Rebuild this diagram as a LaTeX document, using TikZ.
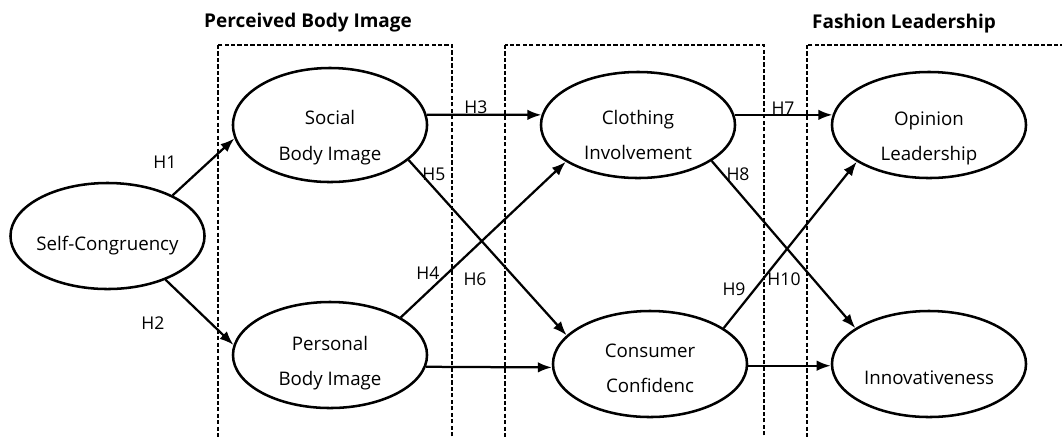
\documentclass[tikz,border=0pt]{standalone}
\usepackage{fontspec}
\setmainfont{Open Sans}
\usetikzlibrary{shapes.geometric,arrows.meta}

\tikzset{
    oval/.style={ellipse, draw, line width=1.8pt, inner sep=0pt,
        minimum width=4.85cm, minimum height=2.65cm},
    txt/.style={align=center, font=\fontsize{13.3}{25}\selectfont, yshift=-6pt},
    hyp/.style={font=\fontsize{12.5}{15}\selectfont},
    arr/.style={-{Latex[length=10pt,width=7.5pt]}, line width=1.6pt},
    group/.style={line width=1.1pt, dash pattern=on 3pt off 1.6pt},
    title/.style={font=\bfseries\fontsize{13.5}{16}\selectfont, anchor=base},
}

\begin{document}
\begin{tikzpicture}[x=0.025cm, y=-0.025cm]
        \useasboundingbox (0,0) rectangle (1062,437);
        \clip (0,0) rectangle (1062,437);
        \draw[group] (218,45) rectangle (452,460);
        \draw[group] (505,45) rectangle (764,460);
        \draw[group] (807,45) rectangle (1090,460);
        \node[title] (tbody) at (308,27) {Perceived Body Image};
        \node[title] (tlead) at (904,28) {Fashion Leadership};

        \node[oval, label={[txt, yshift=-1pt]center:Self-Congruency}] (sc)  at (107.5,236) {};
        \node[oval, minimum height=2.85cm,
              label={[txt, yshift=-3pt]center:Social\\Body Image}]    (sbi) at (330,125) {};
        \node[oval, label={[txt]center:Personal\\Body Image}]         (pbi) at (330,355) {};
        \node[oval, label={[txt, yshift=-1pt]center:Clothing\\Involvement}] (ci) at (638,125) {};
        \node[oval, label={[txt, yshift=3pt]center:Consumer\\Confidenc}] (cc) at (650,364) {};
        \node[oval, label={[txt, yshift=-3.5pt]center:Opinion\\Leadership}] (ol) at (929,125) {};
        \node[oval, label={[txt, yshift=-4pt]center:Innovativeness}]  (inn) at (929,364) {};

        \draw[arr] (sc.32)   -- (sbi.188);
        \draw[arr] (sc.-37)  -- (pbi.174);
        \draw[arr] (sbi.6)   -- (ci.174);
        \draw[arr] (pbi.28)  -- (ci.207);
        \draw[arr] (sbi.-24) -- (cc.161);
        \draw[arr] (pbi.-7)  -- (cc.182);
        \draw[arr] (ci.6)    -- (ol.174);
        \draw[arr] (ci.-26)  -- (inn.154);
        \draw[arr] (cc.26)   -- (ol.207);
        \draw[arr] (cc.-1)   -- (inn.181);

        \node[hyp] (h1)  at (165,162) {H1};
        \node[hyp] (h2)  at (153,323) {H2};
        \node[hyp] (h3)  at (476,107) {H3};
        \node[hyp] (h4)  at (428,273) {H4};
        \node[hyp] (h5)  at (434,174) {H5};
        \node[hyp] (h6)  at (475,279) {H6};
        \node[hyp] (h7)  at (783,108) {H7};
        \node[hyp] (h8)  at (738,174) {H8};
        \node[hyp] (h9)  at (734,289) {H9};
        \node[hyp] (h10) at (784,279) {H10};
    \end{tikzpicture}
\end{document}
